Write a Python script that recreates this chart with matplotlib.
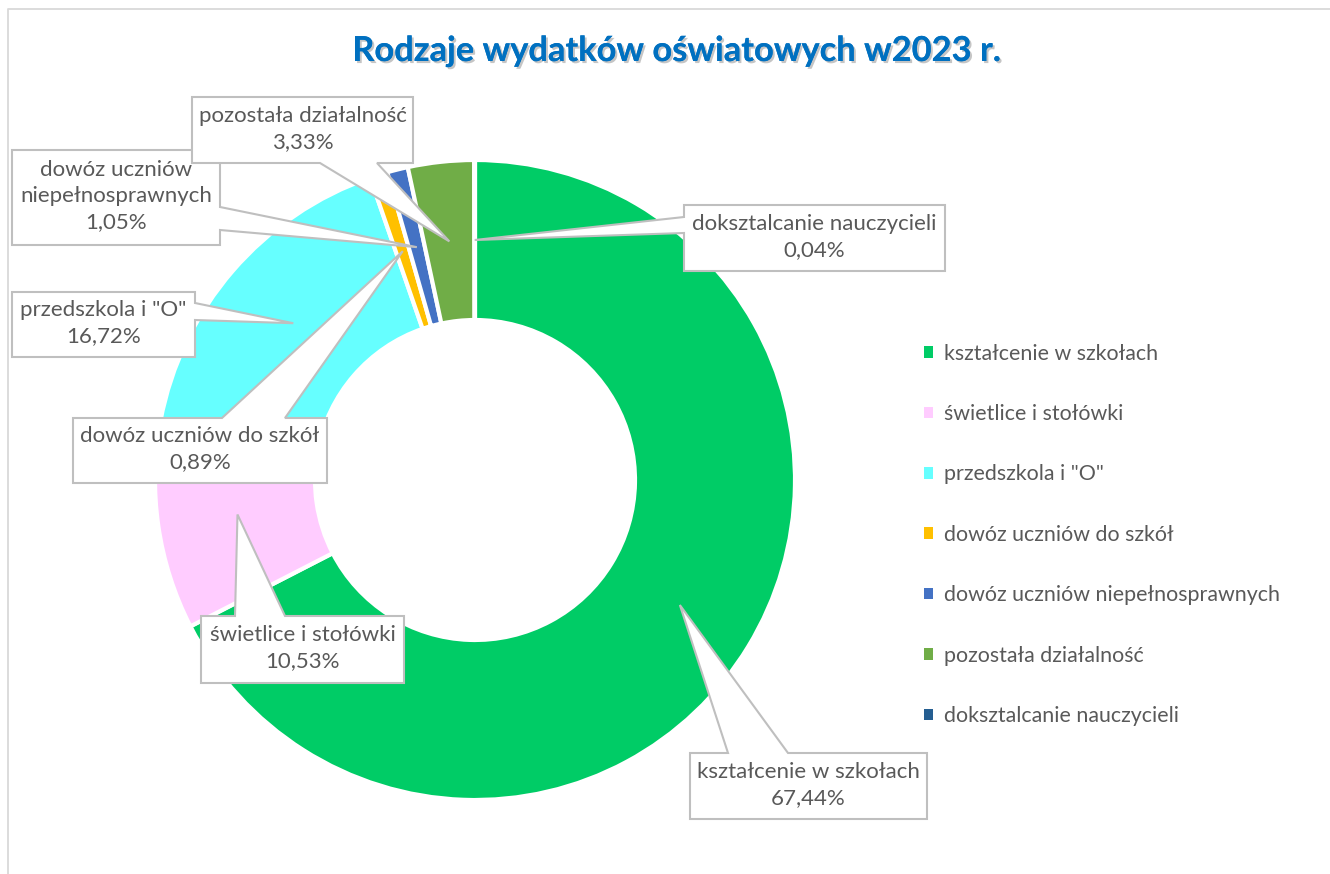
import numpy as np
import matplotlib.pyplot as plt
from matplotlib.patches import Polygon, Rectangle
import matplotlib.patheffects as pe

plt.rcParams['font.family'] = ['Lato', 'DejaVu Sans']

# data
categories = ["kształcenie w szkołach", "świetlice i stołówki", 'przedszkola i "O"',
              "dowóz uczniów do szkół", "dowóz uczniów niepełnosprawnych",
              "pozostała działalność", "doksztalcanie nauczycieli"]
shares = [67.44, 10.53, 16.72, 0.89, 1.05, 3.33, 0.04]
colors = ["#00CC66", "#FFCCFF", "#66FFFF", "#FFC000", "#4472C4", "#70AD47", "#255E91"]
title = "Rodzaje wydatków oświatowych w2023 r."

# layout (pixels, y measured from top)
W, H = 1330, 874
CX, CY, R = 475, 480, 320
TXT = "#595959"
EDGE = "#BFBFBF"

# callout boxes: x0, y0, x1, y1, side of the pointer, pointer base span
callouts = [
    (690, 753, 927, 819, "top", (728, 788)),
    (201, 616, 404, 683, "top", (235, 285)),
    (12, 292, 195, 357, "right", (303, 320)),
    (73, 418, 327, 483, "top", (222, 285)),
    (12, 150, 220, 245, "right", (207, 230)),
    (192, 97, 413, 163, "bottom", (320, 377)),
    (684, 205, 945, 271, "left", (217, 233)),
]
wrapped = {4: "dowóz uczniów\nniepełnosprawnych"}

fig = plt.figure(figsize=(W / 100, H / 100), dpi=100)
ax = fig.add_axes([0, 0, 1, 1])

wedges, _ = ax.pie(shares, colors=colors, startangle=90, counterclock=False,
                   center=(CX, H - CY), radius=R,
                   wedgeprops=dict(width=R / 2, edgecolor="white", linewidth=3))
ax.set_xlim(0, W)
ax.set_ylim(0, H)
ax.set_aspect("auto")
ax.axis("off")

# outer frame (cut at right/bottom like the source)
ax.plot([8, 8, W + 5], [-5, H - 9, H - 9], color="#D9D9D9", lw=1.3, clip_on=False)

# callouts
for i, (w, box) in enumerate(zip(wedges, callouts)):
    x0, y0, x1, y1, side, (a, b) = box
    mid = np.deg2rad((w.theta1 + w.theta2) / 2)
    rr = R * 0.75
    tx = CX + rr * np.cos(mid)
    ty = CY - rr * np.sin(mid)
    tip = (tx, ty)
    if side == "top":
        pts = [(x0, y0), (a, y0), tip, (b, y0), (x1, y0), (x1, y1), (x0, y1)]
    elif side == "right":
        pts = [(x0, y0), (x1, y0), (x1, a), tip, (x1, b), (x1, y1), (x0, y1)]
    elif side == "bottom":
        pts = [(x0, y0), (x1, y0), (x1, y1), (b, y1), tip, (a, y1), (x0, y1)]
    else:
        pts = [(x0, y0), (x1, y0), (x1, y1), (x0, y1), (x0, b), tip, (x0, a)]
    pts = [(px, H - py) for px, py in pts]
    ax.add_patch(Polygon(pts, closed=True, fc="white", ec=EDGE, lw=1.5, zorder=5,
                         joinstyle="miter"))
    name = wrapped.get(i, categories[i])
    val = f"{shares[i]:.2f}".replace(".", ",") + "%"
    ax.text((x0 + x1) / 2, H - (y0 + y1) / 2 + 1, name + "\n" + val, ha="center", va="center",
            fontsize=16, color=TXT, linespacing=1.38, zorder=6)

# title
ax.text(677, H - 51, title, ha="center", va="center", fontsize=24.8, fontweight="bold",
        color="#0070C0",
        path_effects=[pe.withSimplePatchShadow(offset=(1.5, -1.5), shadow_rgbFace="#808080", alpha=0.45),
                      pe.Normal()])

# legend
handles = [Rectangle((0, 0), 1, 1, fc=c, ec="none") for c in colors]
ax.legend(handles, categories, loc="upper left", bbox_to_anchor=(915 / W, 1 - 335 / H),
          frameon=False, fontsize=15.4, labelcolor=TXT, handlelength=0.45, handleheight=0.45,
          handletextpad=0.5, labelspacing=1.89, borderaxespad=0)

fig.savefig("out.png", dpi=100, facecolor="white")
